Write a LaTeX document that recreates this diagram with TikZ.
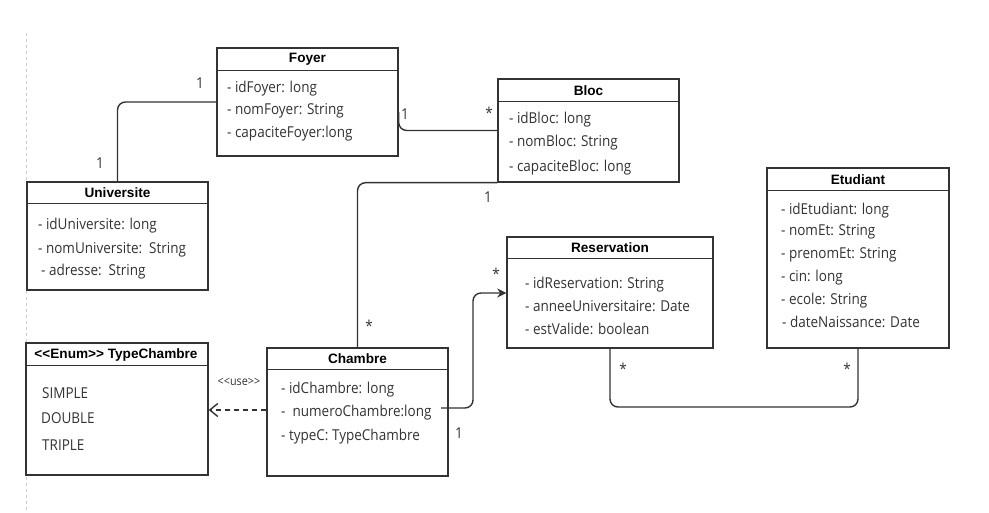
\documentclass[tikz,border=0pt]{standalone}
\usepackage{fontspec}
\setmainfont{Open Sans}
\newfontfamily\attrfont[FakeStretch=0.9]{Open Sans}
\newfontfamily\headfont{Liberation Sans}
\usetikzlibrary{arrows.meta}
\definecolor{ink}{HTML}{333333}
\definecolor{txt}{HTML}{333333}
\definecolor{guide}{HTML}{CFCFCF}
\begin{document}
\begin{tikzpicture}[x=1pt,y=-1pt,
  classbox/.style={draw=ink, line width=1.4pt, fill=white, inner sep=0pt},
  head/.style={font=\headfont\bfseries\fontsize{13.6}{15}\selectfont, text=black, inner sep=0pt},
  attr/.style={font=\attrfont\fontsize{15}{17}\selectfont, text=txt, anchor=base west, inner sep=0pt},
  mult/.style={font=\attrfont\fontsize{15}{17}\selectfont, text=txt, inner sep=0pt},
  conn/.style={draw=ink, line width=1.4pt, rounded corners=8pt},
]
\useasboundingbox (0,0) rectangle (989,513);
\fill[white] (0,0) rectangle (989,513);
\coordinate (gtop) at (26,33);
\coordinate (gbot) at (26,513);
\draw[guide, line width=0.8pt, dash pattern=on 3pt off 3pt] (gtop) -- (gbot);

% class boxes
\node[classbox, minimum width=181pt, minimum height=108pt] (foyer) at (307.5,102) {};
\node[classbox, minimum width=181pt, minimum height=108pt] (univ) at (117.5,236) {};
\node[classbox, minimum width=181pt, minimum height=103pt] (bloc) at (588.5,130.5) {};
\node[classbox, minimum width=206pt, minimum height=111pt] (resa) at (610,292.5) {};
\node[classbox, minimum width=182pt, minimum height=180pt] (etud) at (858,258) {};
\node[classbox, minimum width=181pt, minimum height=128pt] (chambre) at (357.5,412) {};
\node[classbox, minimum width=182pt, minimum height=132pt] (typec) at (117,409) {};

% header separators
\foreach \n/\h in {foyer/23, univ/22, bloc/23, resa/22, etud/23, chambre/22, typec/23}{
  \draw[draw=ink, line width=1.4pt] ([yshift=-\h pt]\n.north west) -- ([yshift=-\h pt]\n.north east);
}

% headers
\node[head] (foyerH) at (307.5,59.5) {Foyer};
\node[head] (univH) at (117.5,193) {Universite};
\node[head] (blocH) at (588.5,90.5) {Bloc};
\node[head] (resaH) at (610,248) {Reservation};
\node[head] (etudH) at (858,179.5) {Etudiant};
\node[head] (chambreH) at (357.5,359) {Chambre};
\node[head] (typecH) at (116,354.5) {<{}<Enum>{}> TypeChambre};

% attributes
\node[attr] (f1) at (227,93) {- idFoyer: long};
\node[attr] (f2) at (227,115) {- nomFoyer: String};
\node[attr] (f3) at (227,138) {- capaciteFoyer:long};

\node[attr] (u1) at (38,230) {- idUniversite: long};
\node[attr] (u2) at (38,254) {- nomUniversite:\ \ String};
\node[attr] (u3) at (41,276) {- adresse:\ \ String};

\node[attr] (b1) at (509,124) {- idBloc: long};
\node[attr] (b2) at (509,147) {- nomBloc: String};
\node[attr] (b3) at (509,172) {- capaciteBloc: long};

\node[attr] (r1) at (525,289) {- idReservation: String};
\node[attr] (r2) at (525,312) {- anneeUniversitaire: Date};
\node[attr] (r3) at (525,335) {- estValide: boolean};

\node[attr] (e1) at (781,215) {- idEtudiant: long};
\node[attr] (e2) at (781,236) {- nomEt: String};
\node[attr] (e3) at (781,259) {- prenomEt: String};
\node[attr] (e4) at (781,282) {- cin: long};
\node[attr] (e5) at (781,305) {- ecole: String};
\node[attr] (e6) at (782,327) {- dateNaissance: Date};

\node[attr] (c1) at (281,393) {- idChambre: long};
\node[attr] (c2) at (281,416) {-\ \ numeroChambre:long};
\node[attr] (c3) at (281,440) {- typeC: TypeChambre};

\node[attr] (t1) at (42,399) {SIMPLE};
\node[attr] (t2) at (41,423) {DOUBLE};
\node[attr] (t3) at (42,450) {TRIPLE};

% connectors
\draw[conn] (foyer.west) -| (univ.north);
\draw[conn] ([yshift=-10pt]foyer.east) |- (bloc.west);
\draw[conn] (bloc.south west) -| (chambre.north);
\coordinate (chStart) at (441,408);
\coordinate (chBend) at (473,350);
\draw[conn, -{Stealth[length=9pt,width=9pt]}] (chStart) -| (chBend) |- ([yshift=-0.5pt]resa.west);
\draw[draw=ink, line width=1.4pt, dash pattern=on 5pt off 4pt, -{Straight Barb[length=8pt,width=13pt]}] ([yshift=2pt]chambre.west) -- ([yshift=2pt]chambre.west -| typec.east);
\coordinate (reLow) at (700,407);
\draw[conn] (resa.south) |- (reLow) -| (etud.south);

% multiplicities
\node[mult] (m1) at (200,83) {1};
\node[mult] (m2) at (100,163) {1};
\node[mult] (m3) at (405,114) {1};
\node[mult] (m4) at (489,113) {*};
\node[mult] (m5) at (488,197) {1};
\node[mult] (m6) at (369,326) {*};
\node[mult] (m7) at (496,274) {*};
\node[mult] (m8) at (459,433) {1};
\node[mult] (m9) at (623,369) {*};
\node[mult] (m10) at (847,369) {*};
\node[font=\attrfont\fontsize{12}{14}\selectfont, text=txt, inner sep=0pt] (use) at (239,382) {<{}<use>{}>};
\end{tikzpicture}
\end{document}
